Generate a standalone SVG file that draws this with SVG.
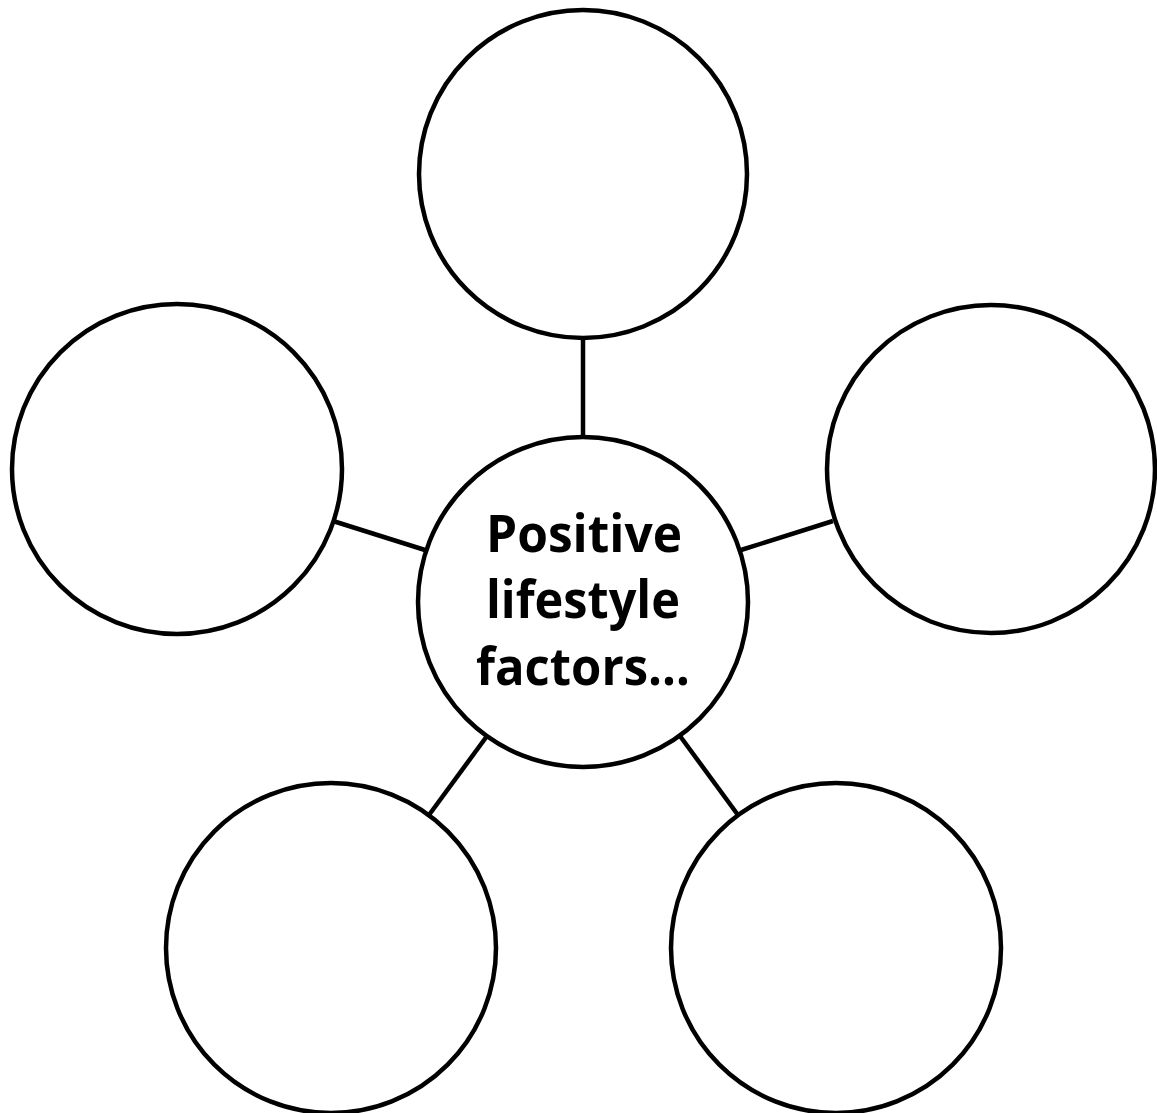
<svg xmlns="http://www.w3.org/2000/svg" width="1157" height="1113" viewBox="0 0 1157 1113">
<style>
.c{fill:#fff;stroke:#000;stroke-width:4.5}
.l{stroke:#000;stroke-width:4.5;fill:none}
.t{font-family:"Open Sans","Liberation Sans",sans-serif;font-weight:bold;font-size:52px;fill:#000}
</style>
<rect width="1157" height="1113" fill="#fff"/>
<g id="connectors">
<line class="l" x1="583" y1="338" x2="583" y2="438"/>
<line class="l" x1="333" y1="521" x2="425" y2="550"/>
<line class="l" x1="741" y1="550" x2="833" y2="521"/>
<line class="l" x1="487" y1="736" x2="429" y2="815"/>
<line class="l" x1="680" y1="736" x2="738" y2="815"/>
</g>
<g id="top"><circle class="c" cx="583" cy="174" r="164"/></g>
<g id="left"><circle class="c" cx="177" cy="469" r="165"/></g>
<g id="right"><circle class="c" cx="991" cy="469" r="164"/></g>
<g id="bottom-left"><circle class="c" cx="331" cy="948" r="165"/></g>
<g id="bottom-right"><circle class="c" cx="836" cy="948" r="165"/></g>
<g id="center"><circle class="c" cx="583" cy="602" r="165"/>
<text class="t" x="584" y="552" text-anchor="middle" textLength="196" lengthAdjust="spacingAndGlyphs">Positive</text>
<text class="t" x="583" y="618" text-anchor="middle" textLength="194" lengthAdjust="spacingAndGlyphs">lifestyle</text>
<text class="t" x="583" y="685" text-anchor="middle" textLength="214" lengthAdjust="spacingAndGlyphs">factors…</text>
</g>
</svg>
